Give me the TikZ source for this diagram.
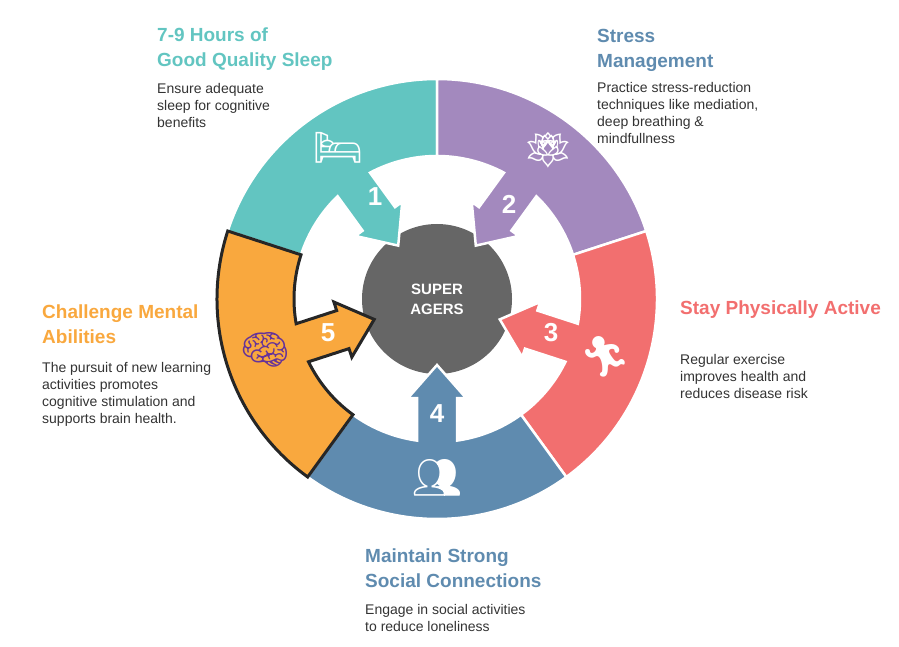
\documentclass[tikz,border=0pt]{standalone}
\usepackage{fontspec}
\setmainfont{Liberation Sans}
\newfontfamily\emoji{Noto Emoji}
\definecolor{sleepc}{HTML}{62C5C1}
\definecolor{stressc}{HTML}{A389BE}
\definecolor{activec}{HTML}{F26F6F}
\definecolor{socialc}{HTML}{5F8BAF}
\definecolor{mentalc}{HTML}{F9A83E}
\definecolor{hubc}{HTML}{666666}
\definecolor{bodyc}{HTML}{333333}
\newcommand{\segpath}{(-36:220) arc[start angle=-36,end angle=36,radius=220] -- (36:143) arc[start angle=36,end angle=8.04,radius=143] -- (99,20) -- (99,29) -- (66,0) -- (99,-29) -- (99,-20) -- (-8.04:143) arc[start angle=-8.04,end angle=-36,radius=143] -- cycle}
\tikzset{
  title/.style={anchor=north west, inner sep=0pt, align=left, font=\fontsize{19}{25}\selectfont\bfseries},
  body/.style={anchor=north west, inner sep=0pt, align=left, text=bodyc, font=\fontsize{14}{17}\selectfont},
  num/.style={text=white, font=\fontsize{26}{26}\selectfont\bfseries},
  icon/.style={text=white, font=\fontsize{40}{40}\selectfont\emoji}
}
\begin{document}
\begin{tikzpicture}[x=1pt,y=1pt]
 \useasboundingbox (0,0) rectangle (899,646);

 \fill[hubc] (437,347) circle (75);
 \node[text=white, font=\fontsize{15}{20}\selectfont\bfseries, align=center] (hub) at (437,347) {SUPER\\AGERS};

 \foreach \ang/\col in {126/sleepc, 54/stressc, -18/activec, -90/socialc}{
   \begin{scope}[shift={(437,347)}, rotate=\ang]
     \fill[\col, draw=white, line width=2.5pt] \segpath;
   \end{scope}
 }
 \begin{scope}[shift={(437,347)}, rotate=198]
   \fill[mentalc, draw=black!85, line width=3pt, line join=miter] \segpath;
 \end{scope}

 \node[num] (n1) at (375,449) {1};
 \node[num] (n2) at (509,442) {2};
 \node[num] (n3) at (551,313) {3};
 \node[num] (n4) at (437,232) {4};
 \node[num] (n5) at (328,313) {5};

 \node[icon] (bed) at (338,498) {🛏};
 \node[icon] (lotus) at (548,496) {🪷};
 \node[icon] (run) at (605,289) {🏃};
 \node[icon] (group) at (437,168) {👥};
 \node[icon, text=blue!60!orange] (brain) at (265,296) {🧠};

 \node[title, text=sleepc] (t1) at (157,618) {7-9 Hours of\\Good Quality Sleep};
 \node[body] (b1) at (157,563) {Ensure adequate\\sleep for cognitive\\benefits};
 \node[title, text=socialc] (t2) at (597,617) {Stress\\Management};
 \node[body] (b2) at (597,564) {Practice stress-reduction\\techniques like mediation,\\deep breathing \&\\mindfullness};
 \node[title, text=activec] (t3) at (680,345) {Stay Physically Active};
 \node[body] (b3) at (680,292) {Regular exercise\\improves health and\\reduces disease risk};
 \node[title, text=socialc] (t4) at (365,97) {Maintain Strong\\Social Connections};
 \node[body] (b4) at (365,42) {Engage in social activities\\to reduce loneliness};
 \node[title, text=mentalc] (t5) at (42,341) {Challenge Mental\\Abilities};
 \node[body] (b5) at (42,284) {The pursuit of new learning\\activities promotes\\cognitive stimulation and\\supports brain health.};
\end{tikzpicture}
\end{document}
